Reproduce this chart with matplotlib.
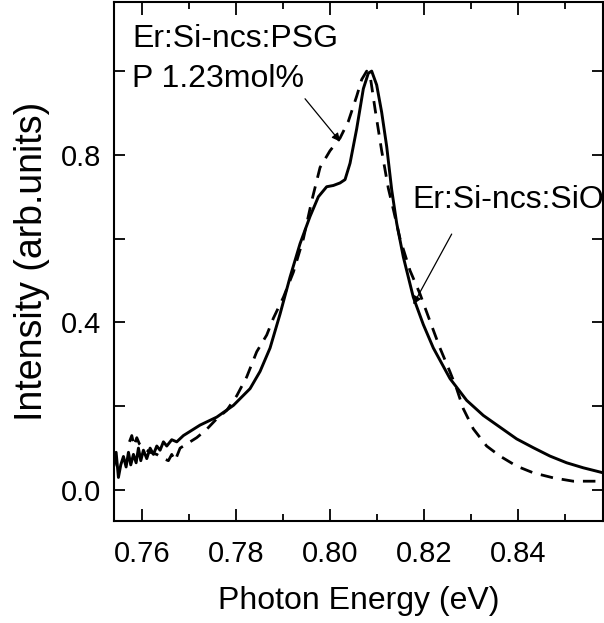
import matplotlib
matplotlib.use("Agg")
import matplotlib.pyplot as plt
from matplotlib.ticker import MultipleLocator, FormatStrFormatter

plt.rcParams['font.family'] = ['Liberation Sans', 'DejaVu Sans']

# Er:Si-ncs:SiO sample (solid)
energy_sio = [0.75412, 0.75455, 0.75504, 0.75554, 0.75611, 0.75667, 0.75717, 0.75766,
              0.75823, 0.75880, 0.75929, 0.75979, 0.76035, 0.76106, 0.76177, 0.76248,
              0.76319, 0.76389, 0.76460, 0.76531, 0.76637, 0.76743, 0.76885, 0.77027,
              0.77239, 0.77593, 0.77947, 0.78301, 0.78513, 0.78726, 0.78938, 0.79150,
              0.79363, 0.79575, 0.79752, 0.79929, 0.80071, 0.80212, 0.80319, 0.80425,
              0.80566, 0.80708, 0.80814, 0.80885, 0.80991, 0.81097, 0.81204, 0.81310,
              0.81416, 0.81558, 0.81770, 0.81982, 0.82195, 0.82549, 0.82903, 0.83257,
              0.83611, 0.83965, 0.84319, 0.84673, 0.85027, 0.85381, 0.85805]
intensity_sio = [0.060, 0.090, 0.030, 0.060, 0.080, 0.055, 0.090, 0.060,
                 0.085, 0.065, 0.100, 0.070, 0.095, 0.075, 0.100, 0.085,
                 0.105, 0.095, 0.115, 0.105, 0.120, 0.115, 0.130, 0.140,
                 0.155, 0.174, 0.202, 0.242, 0.283, 0.339, 0.420, 0.508,
                 0.588, 0.653, 0.700, 0.724, 0.727, 0.733, 0.741, 0.780,
                 0.862, 0.958, 0.995, 1.000, 0.967, 0.902, 0.820, 0.717,
                 0.637, 0.556, 0.460, 0.395, 0.339, 0.266, 0.214, 0.178,
                 0.150, 0.122, 0.101, 0.081, 0.065, 0.053, 0.041]

# Er:Si-ncs:PSG sample, P 1.23 mol% (dashed)
energy_psg = [0.75738, 0.75788, 0.75837, 0.75894, 0.75950, 0.76035, 0.76177, 0.76319,
              0.76460, 0.76566, 0.76637, 0.76708, 0.76814, 0.76956, 0.77168, 0.77380,
              0.77593, 0.77805, 0.78018, 0.78230, 0.78442, 0.78655, 0.78796, 0.79009,
              0.79221, 0.79434, 0.79611, 0.79788, 0.80000, 0.80212, 0.80389, 0.80566,
              0.80673, 0.80779, 0.80864, 0.80956, 0.81097, 0.81239, 0.81345, 0.81487,
              0.81699, 0.81912, 0.82124, 0.82336, 0.82549, 0.82690, 0.82832, 0.83044,
              0.83327, 0.83611, 0.83965, 0.84319, 0.84744, 0.85168, 0.85805]
intensity_psg = [0.115, 0.130, 0.105, 0.125, 0.110, 0.100, 0.090, 0.085,
                 0.075, 0.070, 0.085, 0.070, 0.100, 0.110, 0.125, 0.145,
                 0.170, 0.190, 0.225, 0.270, 0.330, 0.370, 0.410, 0.460,
                 0.520, 0.600, 0.690, 0.770, 0.810, 0.840, 0.880, 0.940,
                 0.980, 1.000, 0.980, 0.910, 0.810, 0.720, 0.670, 0.600,
                 0.524, 0.468, 0.403, 0.339, 0.282, 0.242, 0.194, 0.146,
                 0.105, 0.081, 0.057, 0.041, 0.029, 0.021, 0.021]

x_ticks = [0.76, 0.78, 0.80, 0.82, 0.84]
y_ticks = [0.0, 0.4, 0.8]

fig = plt.figure(figsize=(6.04, 6.23), dpi=100)
ax = fig.add_axes([114 / 604, (623 - 521) / 623, (603 - 114) / 604, (521 - 2) / 623])

ax.plot(energy_sio, intensity_sio, color='black', lw=2.1, solid_joinstyle='round')
ax.plot(energy_psg, intensity_psg, color='black', lw=2.0, linestyle=(0, (4.5, 3.2)))

ax.set_xlim(0.7541, 0.8580)
ax.set_ylim(-0.074, 1.165)
ax.set_xticks(x_ticks)
ax.set_yticks(y_ticks)
ax.xaxis.set_minor_locator(MultipleLocator(0.01))
ax.yaxis.set_minor_locator(MultipleLocator(0.2))
ax.xaxis.set_major_formatter(FormatStrFormatter('%.2f'))
ax.yaxis.set_major_formatter(FormatStrFormatter('%.1f'))

for s in ax.spines.values():
    s.set_linewidth(1.5)
ax.tick_params(which='both', direction='in', top=True, right=True, width=1.3,
               labelsize=21)
ax.tick_params(axis='x', which='both', pad=14)
ax.tick_params(axis='y', which='both', pad=9)
ax.tick_params(axis='x', which='major', length=9)
ax.tick_params(axis='x', which='minor', length=5)
ax.tick_params(axis='y', which='major', length=8)
ax.tick_params(axis='y', which='minor', length=8)

ax.set_xlabel('Photon Energy (eV)', fontsize=23, labelpad=13)
ax.set_ylabel('Intensity (arb.units)', fontsize=27, labelpad=8)

ax.text(0.7580, 1.057, 'Er:Si-ncs:PSG', fontsize=23, va='baseline', ha='left')
ax.text(0.7580, 0.962, 'P 1.23mol%', fontsize=23, va='baseline', ha='left')
ax.text(0.8174, 0.673, 'Er:Si-ncs:SiO', fontsize=23, va='baseline', ha='left',
        clip_on=False)

arrow = dict(arrowstyle='-|>', color='black', lw=0.9, mutation_scale=12,
             shrinkA=0, shrinkB=0)
ax.annotate('', xy=(0.80214, 0.832), xytext=(0.79469, 0.934), arrowprops=arrow)
ax.annotate('', xy=(0.81770, 0.443), xytext=(0.82585, 0.611), arrowprops=arrow)

fig.savefig('out.png', dpi=100)
